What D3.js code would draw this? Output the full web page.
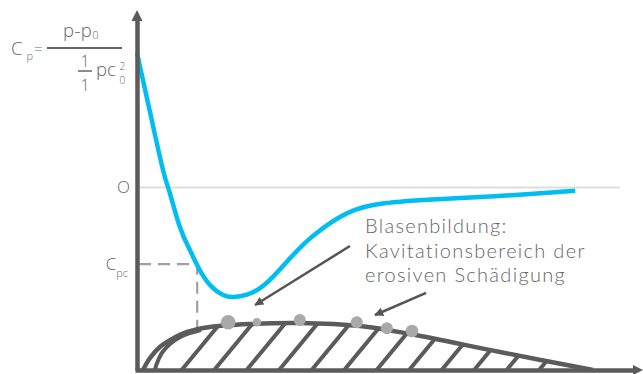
<!DOCTYPE html>
<html>
<head>
<meta charset="utf-8">
<script src="https://cdn.jsdelivr.net/npm/d3@7"></script>
<style>
  html, body { margin: 0; padding: 0; background: #fff; }
  svg { display: block; font-family: "Open Sans", Lato, "DejaVu Sans", sans-serif; }
</style>
</head>
<body>
<svg id="chart" width="643" height="374"></svg>
<script>
// ---------- data ----------
// pressure coefficient curve along the chord (chord position %, Cp)
const chordPos = [0, 2.85, 5.7, 7.2, 9.4, 11.6, 13.4, 16.0, 18.9, 21.1, 24.1, 27.0, 29.8, 33.6, 37.9, 44.5, 51.8, 62.7, 75.2, 86.2, 96.1];
const cpValues = [1.0, 0.561, 0.130, -0.041, -0.294, -0.465, -0.591, -0.725, -0.799, -0.814, -0.797, -0.748, -0.665, -0.525, -0.380, -0.219, -0.130, -0.093, -0.071, -0.048, -0.024];
const cpcValue = -0.569;           // critical pressure coefficient
const cpcChord = 13.2;             // chord position where Cp = Cpc
const tickLabels = ["O", "C"];     // y tick labels (0, Cpc)

// profile (hydrofoil) upper contour: chord position %, thickness
const profileX = [1.3, 2.85, 5.0, 7.7, 11.0, 16.0, 24.8, 35.7, 48.9, 59.9, 79.6, 100];
const profileT = [0, 12, 23, 31, 38, 43, 46, 47, 44, 36, 18, 0];
// inner leading-edge curve
const edgeX = [3.9, 5.6, 9.5, 14.0];
const edgeT = [0, 18, 33, 40];
// hatch line foot positions (chord %)
const hatchX = [9.43, 16.56, 23.68, 30.81, 37.94, 45.07, 52.19, 59.32, 66.45, 73.57, 80.70, 87.83];
// cavitation bubbles
const bubbleX = [20.0, 26.3, 35.7, 48.2, 54.8, 60.3];
const bubbleT = [47.7, 47.7, 50, 47.7, 41.7, 39];
const bubbleR = [7.3, 4.3, 6, 6, 6, 6.3];
// annotation
const noteLines = ["Blasenbildung:", "Kavitationsbereich der", "erosiven Schädigung"];
const arrowFromX = [46.7, 63.4], arrowFromCp = [-0.435, -0.784];
const arrowToX = [25.9, 52.2], arrowToCp = [-0.874, -0.948];

// ---------- scales ----------
const svg = d3.select("#chart");
const x = d3.scaleLinear().domain([0, 100]).range([137, 593]);
const y = d3.scaleLinear().domain([0, 1]).range([187.5, 53]);
const t = d3.scaleLinear().domain([0, 50]).range([370, 320]);

const axisCol = "#5b5b5b", textCol = "#666666";

// arrow marker
const defs = svg.append("defs");
defs.append("marker").attr("id", "ah").attr("markerUnits", "userSpaceOnUse")
  .attr("viewBox", "0 0 10 10").attr("refX", 9).attr("refY", 5)
  .attr("markerWidth", 11).attr("markerHeight", 9).attr("orient", "auto")
  .append("path").attr("d", "M0,0 L10,5 L0,10 Z").attr("fill", "#555");

// zero line
svg.append("line").attr("x1", x(0) + 2).attr("x2", 620).attr("y1", y(0)).attr("y2", y(0))
  .attr("stroke", "#dedede").attr("stroke-width", 2);

// Cpc dashed guides
svg.append("path")
  .attr("d", `M${x(0)+2},${y(cpcValue)} H${x(cpcChord)} V${t(38.5)}`)
  .attr("fill", "none").attr("stroke", "#a0a0a0").attr("stroke-width", 2.2)
  .attr("stroke-dasharray", "12,7");

// ---------- profile ----------
const profPts = profileX.map((d, i) => [x(d), t(profileT[i])]);
const profLine = d3.line().curve(d3.curveCatmullRom.alpha(0.5));
defs.append("clipPath").attr("id", "pclip").append("path")
  .attr("d", profLine(profPts) + `L${x(1.3)},${t(0)}Z`);

const hatchG = svg.append("g").attr("clip-path", "url(#pclip)");
hatchG.selectAll("line.h").data(hatchX).join("line")
  .attr("x1", d => x(d)).attr("y1", t(0) + 2)
  .attr("x2", d => x(d) + 0.85 * 70).attr("y2", t(0) - 70)
  .attr("stroke", axisCol).attr("stroke-width", 4);
hatchG.append("path")
  .attr("d", d3.line().curve(d3.curveNatural)(edgeX.map((d, i) => [x(d), t(edgeT[i])])))
  .attr("fill", "none").attr("stroke", axisCol).attr("stroke-width", 4);

svg.append("path").attr("d", profLine(profPts))
  .attr("fill", "none").attr("stroke", axisCol).attr("stroke-width", 4.5);

// bubbles
svg.selectAll("circle.b").data(bubbleX).join("circle")
  .attr("cx", d => x(d)).attr("cy", (d, i) => t(bubbleT[i])).attr("r", (d, i) => bubbleR[i])
  .attr("fill", "#a9a9a9");

// ---------- Cp curve ----------
svg.append("path")
  .attr("d", d3.line().x(d => x(d[0])).y(d => y(d[1])).curve(d3.curveNatural)(chordPos.map((d, i) => [d, cpValues[i]])))
  .attr("fill", "none").attr("stroke", "#00bdf2").attr("stroke-width", 4.5);

// ---------- axes ----------
const yAxisScale = y.copy().domain([y.invert(370), y.invert(20)]).range([370, 20]);
const yAxis = svg.append("g").attr("transform", `translate(${x(0)},0)`)
  .call(d3.axisLeft(yAxisScale).tickValues([0, cpcValue]).tickSize(0).tickSizeOuter(0).tickPadding(7)
    .tickFormat((d, i) => tickLabels[i]));
yAxis.select(".domain").attr("stroke", axisCol).attr("stroke-width", 4.5);
yAxis.selectAll(".tick text").attr("fill", textCol).attr("font-size", 17).attr("font-family", "'Open Sans', sans-serif")
  .attr("font-weight", 300);
yAxis.selectAll(".tick").filter((d, i) => i === 1).select("text")
  .attr("dx", -2).append("tspan").attr("font-size", 11).attr("dy", 7).text("pc");
svg.append("path").attr("d", `M${x(0)-5.5},21 L${x(0)},10 L${x(0)+5.5},21 Z`).attr("fill", axisCol);

const xAxisScale = x.copy().domain([0, x.invert(637)]).range([x(0) - 2, 637]);
const xAxis = svg.append("g").attr("transform", `translate(0,${t(0)})`)
  .call(d3.axisBottom(xAxisScale).tickValues([]).tickSizeOuter(0));
xAxis.select(".domain").attr("stroke", axisCol).attr("stroke-width", 4.5);
svg.append("path").attr("d", `M633,${t(0)-5} L643,${t(0)} L633,${t(0)+5} Z`).attr("fill", axisCol);

// ---------- annotation ----------
svg.selectAll("line.arr").data(arrowFromX).join("line")
  .attr("x1", d => x(d)).attr("y1", (d, i) => y(arrowFromCp[i]))
  .attr("x2", (d, i) => x(arrowToX[i])).attr("y2", (d, i) => y(arrowToCp[i]))
  .attr("stroke", "#555").attr("stroke-width", 2.5).attr("marker-end", "url(#ah)");

svg.append("g").selectAll("text").data(noteLines).join("text")
  .attr("fill", textCol).attr("font-size", 20).attr("font-weight", 300)
  .attr("font-family", "Lato, 'Open Sans', sans-serif").attr("letter-spacing", 1.3)
  .attr("x", x(50.0)).attr("y", (d, i) => 233.3 + i * 24.3).text(d => d);

// ---------- formula (y-axis title) ----------
const f = svg.append("g").attr("fill", textCol).attr("font-weight", 300);
f.append("text").attr("x", 11).attr("y", 55).attr("font-size", 18.5).text("C");
f.append("text").attr("x", 26.5).attr("y", 60).attr("font-size", 11).text("p");
f.append("text").attr("x", 34).attr("y", 54).attr("font-size", 15).text("=");
f.append("line").attr("x1", 47).attr("x2", 122).attr("y1", 48).attr("y2", 48).attr("stroke", textCol).attr("stroke-width", 2);
const num = f.append("text").attr("x", 63).attr("y", 37).attr("font-size", 18.5).attr("letter-spacing", 0.4);
num.append("tspan").text("p-p");
num.append("tspan").attr("font-size", 11).attr("dy", 2).text("0");
f.append("text").attr("x", 85).attr("y", 67).attr("font-size", 16).attr("text-anchor", "middle").text("1");
f.append("line").attr("x1", 78).attr("x2", 92).attr("y1", 71).attr("y2", 71).attr("stroke", textCol).attr("stroke-width", 1.5);
f.append("text").attr("x", 85).attr("y", 91).attr("font-size", 16).attr("text-anchor", "middle").text("1");
f.append("text").attr("x", 96).attr("y", 76).attr("font-size", 18.5).text("pc");
f.append("text").attr("x", 119.5).attr("y", 70).attr("font-size", 10).text("2");
f.append("text").attr("x", 119.5).attr("y", 84).attr("font-size", 10).text("0");
</script>
</body>
</html>
